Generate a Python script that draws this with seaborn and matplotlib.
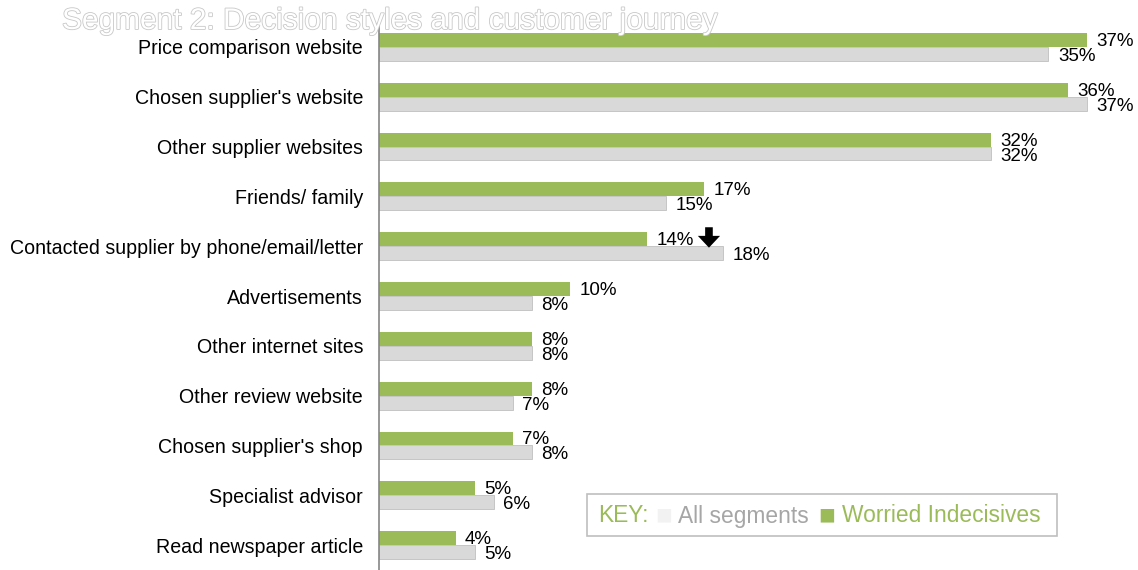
import matplotlib
matplotlib.use("Agg")
import matplotlib.pyplot as plt
import matplotlib.patheffects as pe
from matplotlib.patches import Rectangle
import seaborn as sns
import pandas as pd

sources = [
    "Price comparison website",
    "Chosen supplier's website",
    "Other supplier websites",
    "Friends/ family",
    "Contacted supplier by phone/email/letter",
    "Advertisements",
    "Other internet sites",
    "Other review website",
    "Chosen supplier's shop",
    "Specialist advisor",
    "Read newspaper article",
]
worried_indecisives = [37, 36, 32, 17, 14, 10, 8, 8, 7, 5, 4]
all_segments = [35, 37, 32, 15, 18, 8, 8, 7, 8, 6, 5]
series_names = ["Worried Indecisives", "All segments"]

GREEN = "#9BBB59"
GREY = "#D9D9D9"

df = pd.DataFrame({
    "source": sources * 2,
    "share": worried_indecisives + all_segments,
    "segment": [series_names[0]] * len(sources) + [series_names[1]] * len(sources),
})

sns.set_style("white")
plt.rcParams["font.family"] = ["Liberation Sans", "DejaVu Sans"]

fig = plt.figure(figsize=(11.38, 5.70), dpi=100)
ax = fig.add_axes([379 / 1138, 0.0, (1125 - 379) / 1138, 1 - 22 / 570])

sns.barplot(
    data=df, y="source", x="share", hue="segment", order=sources,
    hue_order=series_names, palette=[GREEN, GREY], width=0.56,
    orient="h", ax=ax, legend=False, saturation=1,
)

# outline the grey bars lightly
for patch in ax.containers[1]:
    patch.set_edgecolor("#BFBFBF")
    patch.set_linewidth(0.6)
for patch in ax.containers[0]:
    patch.set_edgecolor("none")

ax.set_xlim(0, 39)
ax.set_ylim(len(sources) - 0.5, -0.5)
ax.set_xlabel("")
ax.set_ylabel("")
ax.set_xticks([])

# category tick marks sit between categories
ax.set_yticks(range(len(sources)))
ax.set_yticklabels(sources, fontsize=14.1, color="#000000")
ax.tick_params(axis="y", length=0, pad=11.5)
ax.set_yticks([i + 0.5 for i in range(-1, len(sources))], minor=True)
ax.tick_params(axis="y", which="minor", length=5, color="#868686", width=1)

for side in ["top", "right", "bottom"]:
    ax.spines[side].set_visible(False)
ax.spines["left"].set_color("#868686")
ax.spines["left"].set_linewidth(1.2)

# value labels at the end of each bar
for container, vals, dy in [(ax.containers[0], worried_indecisives, 0.03),
                             (ax.containers[1], all_segments, 0.05)]:
    for patch, v in zip(container, vals):
        yc = patch.get_y() + patch.get_height() / 2
        ax.text(v + 0.5, yc + dy, f"{v}%", va="center", ha="left",
                fontsize=13.5, color="#000000", clip_on=False)

# downward arrow marking the drop for direct contact
ax.annotate("", xy=(17.25, 4.03), xytext=(17.25, 3.62),
            arrowprops=dict(arrowstyle="simple,head_width=1.6,head_length=0.85,tail_width=0.55",
                            color="black", lw=0, shrinkA=0, shrinkB=0))

# key box
fig.patches.append(Rectangle((587 / 1138, 1 - 536 / 570), (1057 - 587) / 1138, 42 / 570,
                             transform=fig.transFigure, facecolor="white",
                             edgecolor="#BFBFBF", linewidth=1.2))
ky = 1 - 516 / 570
fig.text(598 / 1138, ky, "KEY:", color=GREEN, fontsize=16.4, va="center")
fig.text(655 / 1138, ky, "■", color="#F2F2F2", fontsize=20, va="center")
fig.text(678 / 1138, ky, "All segments", color="#A6A6A6", fontsize=16.4, va="center")
fig.text(818 / 1138, ky, "■", color=GREEN, fontsize=20, va="center")
fig.text(842 / 1138, ky, "Worried Indecisives", color=GREEN, fontsize=16.4, va="center")

# title drawn as outlined white text
fig.text(62 / 1138, 1 - 21 / 570, "Segment 2: Decision styles and customer journey",
         fontsize=21.5, color="white", va="center", ha="left",
         path_effects=[pe.Stroke(linewidth=1.2, foreground="#C8C8C8"), pe.Normal()])

fig.savefig("out.png", dpi=100)
